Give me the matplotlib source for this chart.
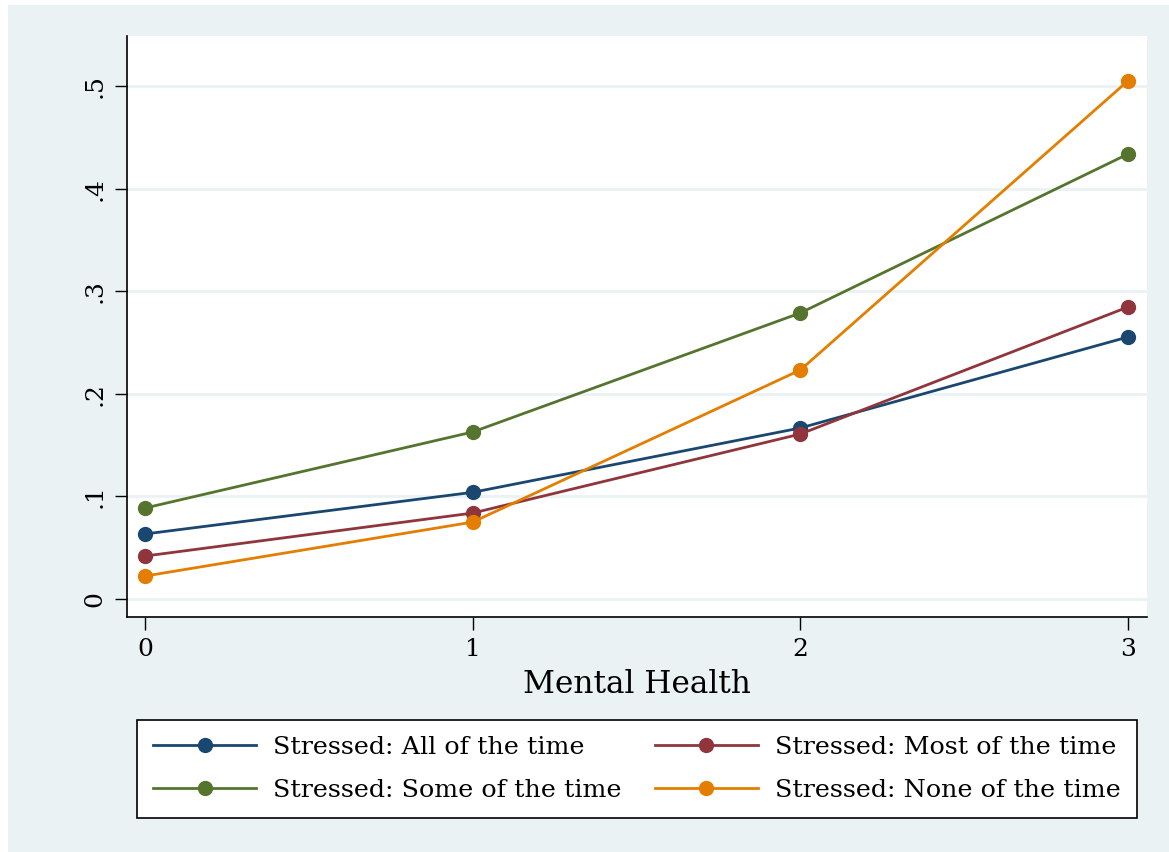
import matplotlib
matplotlib.use("Agg")
import matplotlib.pyplot as plt
from matplotlib.patches import Rectangle

plt.rcParams['font.family'] = ['DejaVu Serif']

x = [0, 1, 2, 3]
series_labels = ["Stressed: All of the time", "Stressed: Most of the time",
                 "Stressed: Some of the time", "Stressed: None of the time"]
all_time = [0.0634, 0.104, 0.1667, 0.2554]
most_time = [0.0419, 0.0838, 0.1608, 0.2846]
some_time = [0.0887, 0.1628, 0.2788, 0.4337]
none_time = [0.0224, 0.075, 0.2232, 0.505]
colors = ["#1a476f", "#90353b", "#55752f", "#e37e00"]
yticks = [0, 0.1, 0.2, 0.3, 0.4, 0.5]
ytick_labels = ["0", ".1", ".2", ".3", ".4", ".5"]
xticks = [0, 1, 2, 3]
bg = "#eaf2f3"

W, H = 1169, 852
fig = plt.figure(figsize=(W / 100, H / 100), dpi=100, facecolor="white")
fig.patches.append(Rectangle((8 / W, 0), 1 - 8 / W, 1 - 5 / H, transform=fig.transFigure,
                             facecolor=bg, edgecolor="none", zorder=-10))

ax = fig.add_axes([127 / W, 1 - 617 / H, (1147 - 127) / W, (617 - 36) / H])
ax.set_facecolor("white")

handles = {}
for lbl, ys, c in zip(series_labels, [all_time, most_time, some_time, none_time], colors):
    h, = ax.plot(x, ys, color=c, lw=2.0, marker="o", ms=11, markeredgewidth=0, zorder=3)
    handles[lbl] = h

ax.set_xlim(-0.055, 3.058)
ax.set_ylim(-0.0175, 0.5487)
ax.set_yticks(yticks)
ax.set_yticklabels(ytick_labels, rotation=90, va="center")
ax.set_xticks(xticks)
ax.set_xticklabels([str(v) for v in xticks])
for yv in yticks:
    ax.axhline(yv, color=bg, lw=2, zorder=1)

for s in ["top", "right"]:
    ax.spines[s].set_visible(False)
for s in ["left", "bottom"]:
    ax.spines[s].set_linewidth(1.2)
    ax.spines[s].set_color("black")
ax.tick_params(axis="both", direction="out", length=9, width=1.0, labelsize=18, pad=6)
ax.set_xlabel("Mental Health", fontsize=22.5, labelpad=6)

order = [series_labels[0], series_labels[2], series_labels[1], series_labels[3]]
leg = fig.legend([handles[k] for k in order], order, ncol=2, loc="upper left",
                 bbox_to_anchor=(137 / W, 1 - 817 / H, (1137 - 137) / W, (817 - 720) / H),
                 mode="expand", fontsize=18.3, frameon=True, fancybox=False,
                 facecolor="white", framealpha=1.0,
                 edgecolor="black", handlelength=4.05, handletextpad=0.67,
                 labelspacing=0.76, borderpad=0.64, borderaxespad=0)
leg.get_frame().set_linewidth(1.2)

fig.savefig("out.png", dpi=100, facecolor="white")
